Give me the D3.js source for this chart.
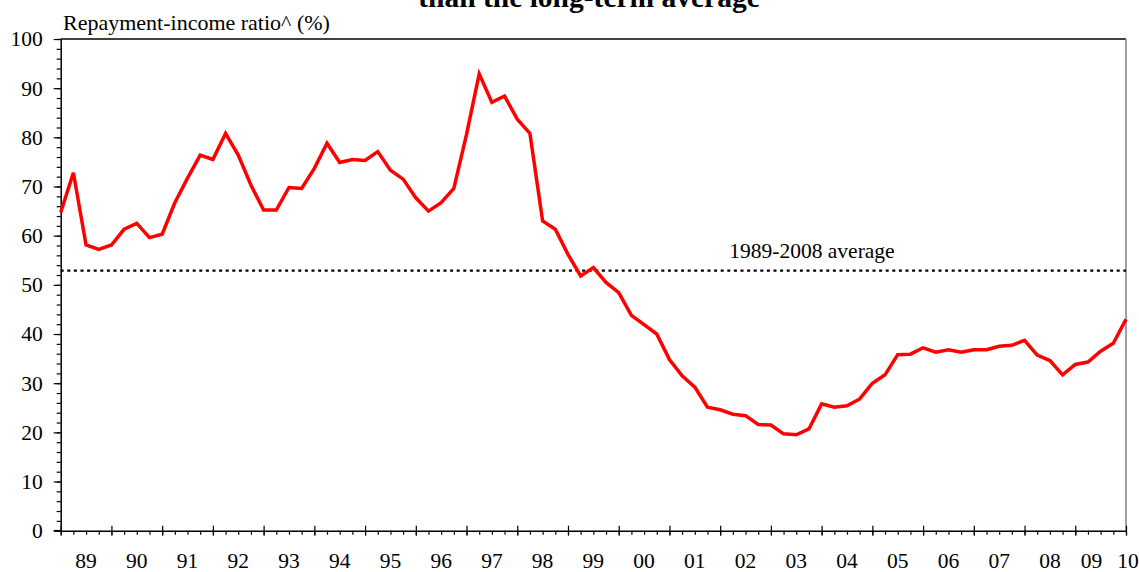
<!DOCTYPE html>
<html>
<head>
<meta charset="utf-8">
<script src="https://cdn.jsdelivr.net/npm/d3@7"></script>
<style>
  html, body { margin: 0; padding: 0; background: #fff; }
  svg { display: block; }
  svg text { font-family: "Liberation Serif", "Times New Roman", serif !important; fill: #000; }
</style>
</head>
<body>
<svg id="chart" width="1139" height="572" font-family="Liberation Serif"></svg>
<script>
// ---- Data ----
const titleText = "than the long-term average";
const yAxisTitle = "Repayment-income ratio^ (%)";
const averageLabel = "1989-2008 average";
const averageValue = 52.9;
const startYear = 1989;
const endYear = 2010;
const yearLabels = ["89","90","91","92","93","94","95","96","97","98","99","00","01","02","03","04","05","06","07","08","09","10"];
const yTicks = [0,10,20,30,40,50,60,70,80,90,100];
// quarterly repayment-income ratio, 1989Q1 .. 2010Q1
const ratio = [
  64.7, 72.8, 58.1, 57.2,
  58.1, 61.3, 62.5, 59.6,
  60.3, 66.7, 71.7, 76.4,
  75.5, 80.8, 76.4, 70.3,
  65.2, 65.2, 69.8, 69.6,
  73.7, 78.8, 74.9, 75.5,
  75.3, 77.1, 73.3, 71.5,
  67.7, 65.0, 66.7, 69.6,
  80.6, 92.9, 87.1, 88.4,
  83.7, 80.8, 63.0, 61.3,
  56.2, 51.8, 53.5, 50.5,
  48.4, 43.8, 41.9, 40.0,
  34.8, 31.5, 29.2, 25.1,
  24.6, 23.7, 23.4, 21.6,
  21.5, 19.7, 19.5, 20.7,
  25.8, 25.1, 25.4, 26.8,
  30.0, 31.7, 35.8, 35.9,
  37.2, 36.3, 36.8, 36.3,
  36.8, 36.8, 37.5, 37.7,
  38.7, 35.7, 34.6, 31.7,
  33.8, 34.3, 36.5, 38.1,
  43.0
];

// ---- Layout ----
const svg = d3.select("#chart");
const L = 60.7, R = 1126, T = 39, B = 530.7;
const x = d3.scaleLinear().domain([startYear, endYear]).range([L, R]);
const y = d3.scaleLinear().domain([0, 100]).range([B, T]);
const fs = 21.5;
const serif = "Liberation Serif";

// Title (cut off at top, as in the source)
svg.append("text")
  .attr("x", 589).attr("y", 7)
  .attr("text-anchor", "middle")
  .attr("font-family", serif)
  .style("font-weight", "bold")
  .style("font-size", "29.5px")
  .text(titleText);

// Y axis title
svg.append("text")
  .attr("x", 63).attr("y", 30)
  .attr("font-family", serif)
  .style("font-size", "22px")
  .text(yAxisTitle);

// Frame: top black, right gray
svg.append("line").attr("x1", L).attr("x2", R).attr("y1", T).attr("y2", T)
  .attr("stroke", "#000").attr("stroke-width", 1.5);
svg.append("line").attr("x1", R).attr("x2", R).attr("y1", T).attr("y2", B)
  .attr("stroke", "#808080").attr("stroke-width", 1.5);

// Y axis minor ticks
const yMinor = d3.range(0, 101, 2);
const yAxisMinor = svg.append("g").attr("transform", `translate(${L},0)`)
  .call(d3.axisLeft(y).tickValues(yMinor).tickSize(4).tickFormat(""));
yAxisMinor.select(".domain").remove();
yAxisMinor.selectAll("line").attr("stroke", "#000").attr("stroke-width", 1.2);

// Y axis major
const yAxis = svg.append("g").attr("transform", `translate(${L},0)`)
  .call(d3.axisLeft(y).tickValues(yTicks).tickSizeInner(7).tickSizeOuter(0).tickPadding(11));
yAxis.attr("font-family", serif).attr("font-size", fs);
yAxis.select(".domain").attr("stroke", "#000").attr("stroke-width", 1.5);
yAxis.selectAll("line").attr("stroke", "#000").attr("stroke-width", 1.2);
yAxis.selectAll("text").style("font-size", fs + "px")
  .attr("font-family", serif).attr("fill", "#000");

// X axis minor ticks (quarters)
const xMinor = d3.range(0, (endYear - startYear) * 4 + 1).map(i => startYear + i / 4);
const xAxisMinor = svg.append("g").attr("transform", `translate(0,${B})`)
  .call(d3.axisBottom(x).tickValues(xMinor).tickSize(4).tickFormat(""));
xAxisMinor.select(".domain").remove();
xAxisMinor.selectAll("line").attr("stroke", "#000").attr("stroke-width", 1.2);

// X axis major (years) crossing the axis
const xMajor = d3.range(startYear, endYear + 1);
const xAxis = svg.append("g").attr("transform", `translate(0,${B})`)
  .call(d3.axisBottom(x).tickValues(xMajor).tickSizeInner(5).tickSizeOuter(0).tickFormat(""));
xAxis.select(".domain").attr("stroke", "#000").attr("stroke-width", 1.5);
xAxis.selectAll(".tick line").attr("y1", -5).attr("stroke", "#000").attr("stroke-width", 1.2);
svg.append("line").attr("x1", L - 7).attr("x2", L).attr("y1", B).attr("y2", B)
  .attr("stroke", "#000").attr("stroke-width", 1.5);

// X labels: centred in each year; last two squeezed at the right end
const n = yearLabels.length;
svg.append("g").selectAll("text").data(yearLabels).join("text")
  .attr("x", (d, i) => {
    if (i === n - 1) return x(startYear + i) + 2;
    if (i === n - 2) return x(startYear + i + 0.32);
    return x(startYear + i + 0.5);
  })
  .attr("y", 568)
  .attr("text-anchor", "middle")
  .attr("font-family", serif)
  .style("font-size", fs + "px")
  .text(d => d);

// Average dotted line
svg.append("line")
  .attr("x1", L).attr("x2", R)
  .attr("y1", y(averageValue)).attr("y2", y(averageValue))
  .attr("stroke", "#000").attr("stroke-width", 2.2)
  .attr("stroke-dasharray", "3,3.6");
svg.append("text")
  .attr("x", x(2002.18)).attr("y", y(averageValue) - 13)
  .attr("font-family", serif)
  .style("font-size", fs + "px")
  .text(averageLabel);

// Red series line
const line = d3.line()
  .x((d, i) => x(startYear + i / 4))
  .y(d => y(d));
svg.append("path")
  .datum(ratio)
  .attr("d", line)
  .attr("fill", "none")
  .attr("stroke", "#ff0000")
  .attr("stroke-width", 3.5)
  .attr("stroke-linejoin", "miter");
</script>
</body>
</html>
